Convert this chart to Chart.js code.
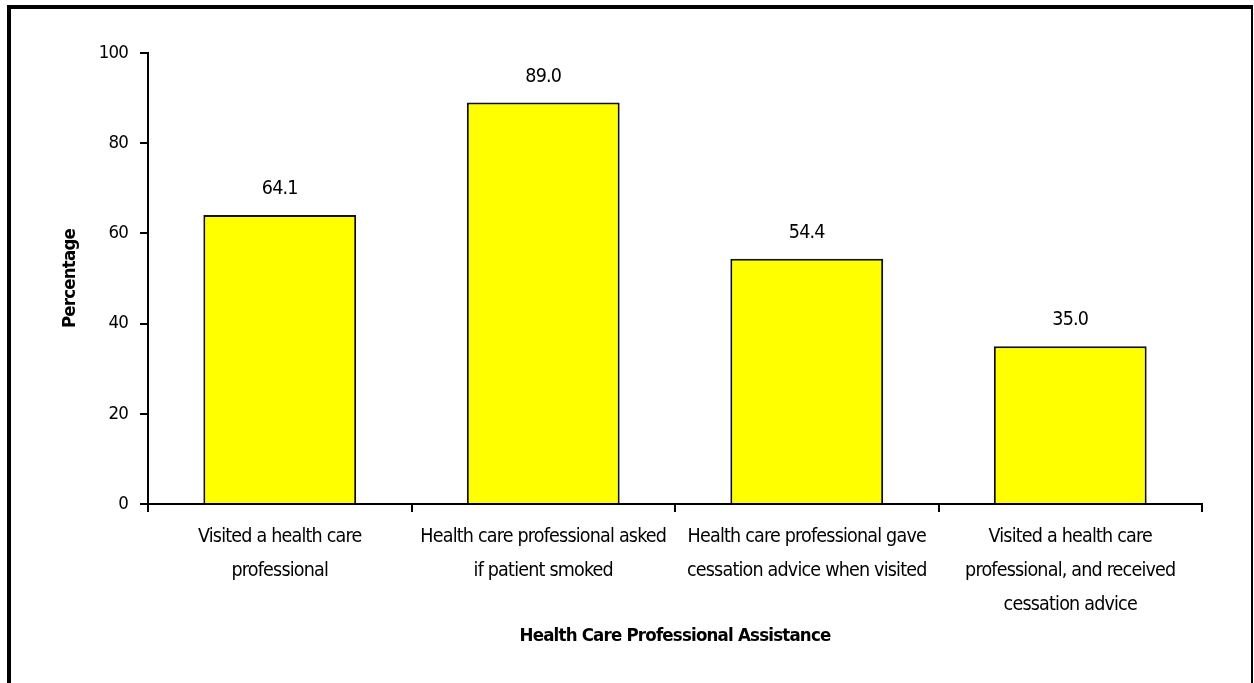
<!DOCTYPE html>
<html>
<head>
<meta charset="utf-8">
<script src="https://cdn.jsdelivr.net/npm/chart.js@4"></script>
<style>
  html, body { margin: 0; padding: 0; background: #fff; overflow: hidden; }
  #wrap { position: relative; width: 1254px; height: 683px; }
  #frame {
    position: absolute; left: 7px; top: 5px; width: 1246px; height: 700px;
    box-sizing: border-box; pointer-events: none;
    border-left: 4px solid #000; border-top: 4px solid #000; border-right: 2px solid #000;
  }
</style>
</head>
<body>
<div id="wrap">
  <canvas id="assist" width="1254" height="683"></canvas>
  <div id="frame"></div>
</div>
<script>
// categories (each one split into the lines it is printed on)
const categories = [
  ['Visited a health care', 'professional'],
  ['Health care professional asked', 'if patient smoked'],
  ['Health care professional gave', 'cessation advice when visited'],
  ['Visited a health care', 'professional, and received', 'cessation advice']
]
const percentages = [64.1, 89.0, 54.4, 35.0]
const yMin = 0
const yMax = 100
const yStep = 20

const FONT = '"DejaVu Sans Condensed", "Liberation Sans Narrow", "Arial Narrow", sans-serif'
const SPACING = '-0.8px'

// tighter letters so the condensed font reads narrow (set before measuring and drawing)
const tightText = {
  id: 'tightText',
  beforeLayout(chart) { chart.ctx.letterSpacing = SPACING },
  beforeDraw(chart) { chart.ctx.letterSpacing = SPACING }
}

// writes the value above each bar
const barValues = {
  id: 'barValues',
  afterDatasetsDraw(chart) {
    const ctx = chart.ctx
    const meta = chart.getDatasetMeta(0)
    ctx.save()
    ctx.letterSpacing = SPACING
    ctx.font = '19.5px ' + FONT
    ctx.fillStyle = '#000'
    ctx.textAlign = 'center'
    ctx.textBaseline = 'middle'
    meta.data.forEach((bar, i) => {
      ctx.fillText(percentages[i].toFixed(1), bar.x, bar.y - 26)
    })
    ctx.restore()
  }
}

var ctx = document.getElementById('assist').getContext('2d')
var chart = new Chart(ctx, {
  type: 'bar',
  data: {
    labels: categories,
    datasets: [{
      data: percentages,
      backgroundColor: '#FFFF00',
      borderColor: '#111',
      borderWidth: 2,
      borderSkipped: 'start',
      categoryPercentage: 1,
      barPercentage: 0.58
    }]
  },
  options: {
    responsive: false,
    animation: false,
    layout: { padding: { top: 53, right: 52, bottom: 0, left: 0 } },
    plugins: {
      legend: { display: false },
      tooltip: { enabled: false }
    },
    scales: {
      x: {
        afterFit: (scale) => { scale.height = 179 },
        border: { color: '#000', width: 2 },
        grid: { offset: true, drawOnChartArea: false, drawTicks: true, tickLength: 8, color: '#000', lineWidth: 2 },
        ticks: {
          color: '#000',
          padding: 8,
          maxRotation: 0,
          autoSkip: false,
          font: { family: FONT, size: 19.5, lineHeight: 34 / 19.5 }
        },
        title: {
          display: true,
          text: 'Health Care Professional Assistance',
          color: '#000',
          padding: { top: 0, bottom: 36 },
          font: { family: FONT, size: 18.5, weight: 'bold', lineHeight: 1.2 }
        }
      },
      y: {
        min: yMin,
        max: yMax,
        afterFit: (scale) => { scale.width = 148 },
        border: { color: '#000', width: 2 },
        grid: { drawOnChartArea: false, drawTicks: true, tickLength: 8, color: '#000', lineWidth: 2 },
        ticks: {
          stepSize: yStep,
          color: '#000',
          padding: 12,
          font: { family: FONT, size: 18.5 }
        },
        title: {
          display: true,
          text: 'Percentage',
          color: '#000',
          padding: { top: 59, bottom: 0 },
          font: { family: FONT, size: 18.5, weight: 'bold', lineHeight: 1.2 }
        }
      }
    }
  },
  plugins: [tightText, barValues]
})
</script>
</body>
</html>
